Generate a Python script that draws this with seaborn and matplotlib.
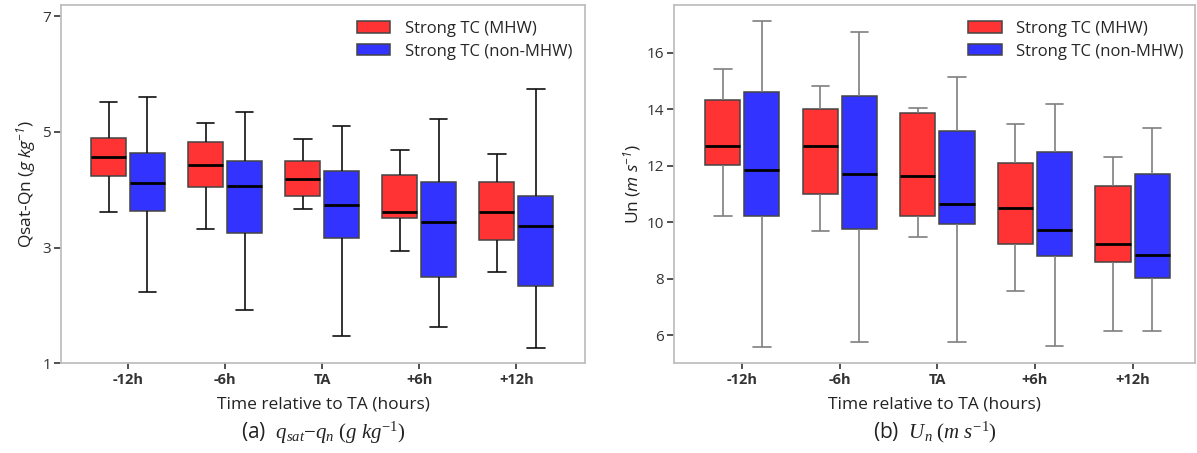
import numpy as np
import pandas as pd
import matplotlib
matplotlib.use('Agg')
import matplotlib.pyplot as plt
import seaborn as sns

# categories
times = ['-12h', '-6h', 'TA', '+6h', '+12h']
groups = ['Strong TC (MHW)', 'Strong TC (non-MHW)']

# box stats per time step: [whisker low, Q1, median, Q3, whisker high]
qdiff_mhw = [[3.62, 4.24, 4.57, 4.89, 5.52],
             [3.32, 4.05, 4.43, 4.83, 5.16],
             [3.67, 3.90, 4.19, 4.49, 4.87],
             [2.95, 3.51, 3.61, 4.26, 4.69],
             [2.58, 3.13, 3.62, 4.13, 4.62]]
qdiff_non = [[2.23, 3.64, 4.11, 4.63, 5.60],
             [1.92, 3.26, 4.07, 4.50, 5.35],
             [1.48, 3.16, 3.74, 4.32, 5.11],
             [1.63, 2.49, 3.45, 4.14, 5.22],
             [1.26, 2.33, 3.37, 3.90, 5.74]]

un_mhw = [[10.20, 12.04, 12.70, 14.33, 15.41],
          [9.69, 11.01, 12.70, 14.01, 14.81],
          [9.46, 10.20, 11.65, 13.85, 14.03],
          [7.57, 9.24, 10.50, 12.11, 13.46],
          [6.14, 8.59, 9.22, 11.28, 12.32]]
un_non = [[5.58, 10.20, 11.85, 14.62, 17.12],
          [5.75, 9.75, 11.71, 14.48, 16.75],
          [5.75, 9.95, 10.65, 13.24, 15.15],
          [5.63, 8.81, 9.73, 12.49, 14.20],
          [6.14, 8.03, 8.84, 11.71, 13.32]]

RED = '#ff3333'
BLUE = '#3333ff'


def to_long(mhw, non):
    rows = []
    for t, s_m, s_n in zip(times, mhw, non):
        for v in s_m:
            rows.append((t, groups[0], v))
        for v in s_n:
            rows.append((t, groups[1], v))
    return pd.DataFrame(rows, columns=['time', 'group', 'value'])


sns.set_theme(style='white')
plt.rcParams.update({
    'font.family': ['Open Sans', 'DejaVu Sans'],
    'mathtext.fontset': 'custom',
    'mathtext.rm': 'Liberation Serif',
    'mathtext.it': 'Liberation Serif:italic',
    'mathtext.sf': 'Open Sans:italic',
    'axes.edgecolor': '#bfbfbf',
    'axes.linewidth': 1.3,
    'xtick.color': '#333333',
    'ytick.color': '#333333',
})

fig = plt.figure(figsize=(11.97, 4.53), dpi=100)
ax1 = fig.add_axes([60.7 / 1197, 1 - 363.3 / 453, 524.6 / 1197, 358.6 / 453])
ax2 = fig.add_axes([674 / 1197, 1 - 363.3 / 453, 521 / 1197, 358.6 / 453])

panels = [
    (ax1, to_long(qdiff_mhw, qdiff_non), '#111111', (1, 7.2), [1, 3, 5, 7],
     r'Qsat-Qn ($\mathsf{g\ kg^{-1}}$)', r'(a)  $q_{sat}{-}q_n\ (g\ kg^{-1})$', (-0.694, 4.71)),
    (ax2, to_long(un_mhw, un_non), '#7f7f7f', (5.0, 17.7), [6, 8, 10, 12, 14, 16],
     r'Un ($\mathsf{m\ s^{-1}}$)', r'(b)  $U_n\ (m\ s^{-1})$', (-0.70, 4.64)),
]

for ax, df, wcol, ylim, yticks, ylab, cap, xlim in panels:
    sns.boxplot(data=df, x='time', y='value', hue='group', order=times,
                hue_order=groups, palette=[RED, BLUE], saturation=1,
                whis=(0, 100), width=0.8, gap=0.1, linewidth=1.1,
                linecolor='#444444', ax=ax,
                medianprops={'color': 'black', 'linewidth': 2},
                whiskerprops={'color': wcol, 'linewidth': 1.2},
                capprops={'color': wcol, 'linewidth': 1.2})
    ax.set_ylim(*ylim)
    ax.set_xlim(*xlim)
    ax.set_yticks(yticks)
    ax.tick_params(axis='y', left=True, length=5, width=1.2, pad=2, labelsize=11)
    ax.tick_params(axis='x', bottom=True, length=4, width=1.2, pad=3, labelsize=10.5)
    for lab in ax.get_xticklabels():
        lab.set_fontweight('bold')
    ax.set_ylabel(ylab, fontsize=12.5, color='#222222', labelpad=3)
    ax.set_xlabel('Time relative to TA (hours)', fontsize=12.5, color='#222222', labelpad=7)
    ax.text(0.5, -0.193, cap, transform=ax.transAxes, ha='center', va='center',
            fontsize=15, color='#222222')
    sns.move_legend(ax, 'upper left', bbox_to_anchor=(0.565, 0.955), frameon=False,
                    title=None, fontsize=12, borderpad=0, borderaxespad=0,
                    handlelength=2.0, handleheight=0.68, handletextpad=0.85,
                    labelspacing=0.4)

fig.savefig('out.png', dpi=100)
